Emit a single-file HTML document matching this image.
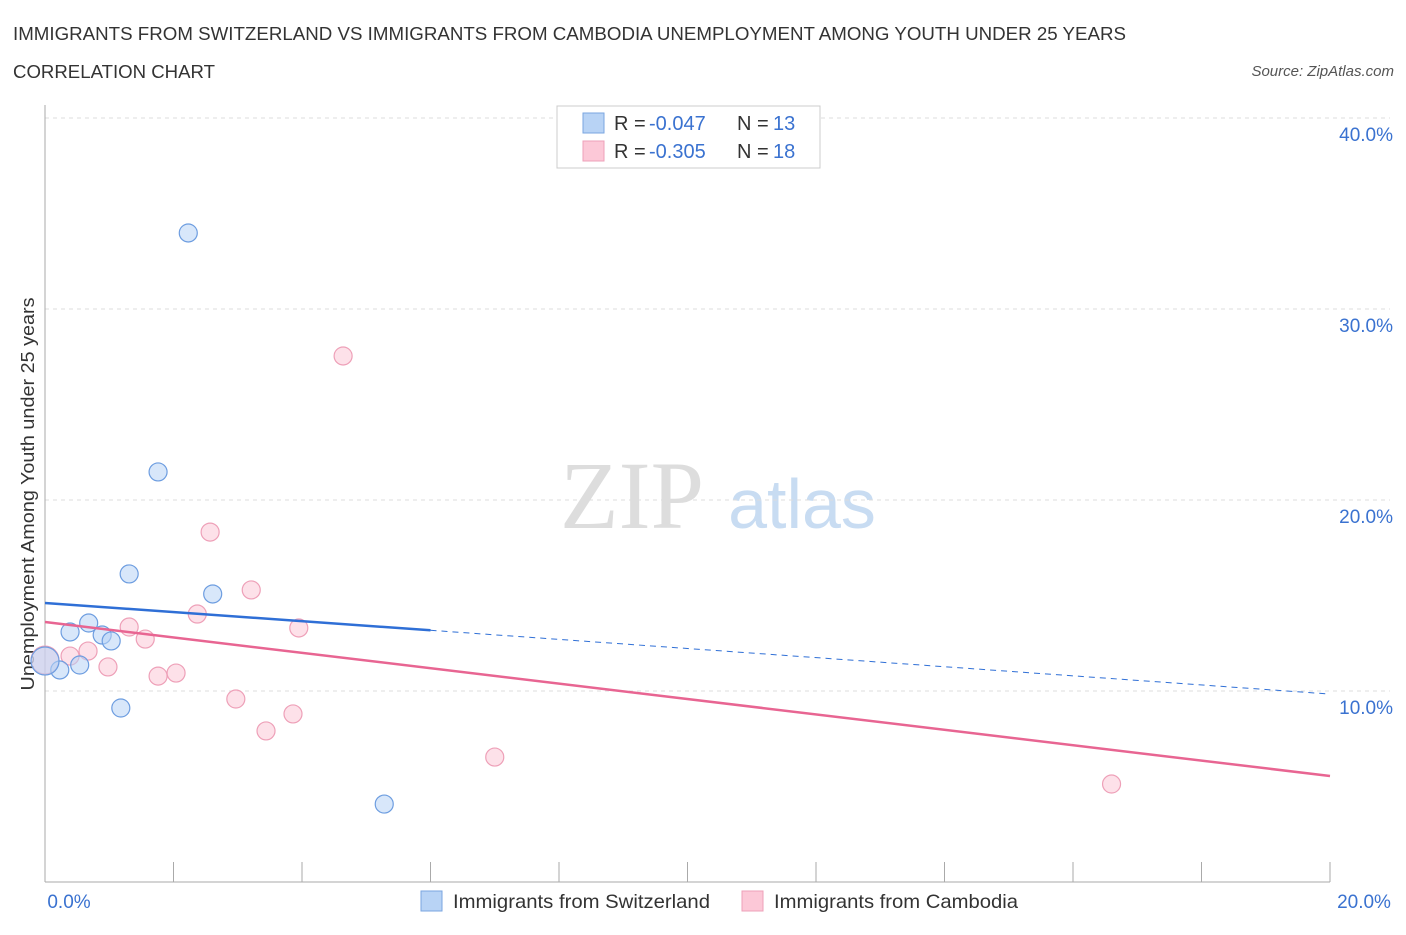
<!DOCTYPE html>
<html><head><meta charset="utf-8"><style>
body{margin:0;background:#fff;font-family:"Liberation Sans",sans-serif;}
svg text{font-family:"Liberation Sans",sans-serif;}
</style></head><body>
<svg id="c" width="1406" height="930">
<text x="13" y="40" font-size="18.5" fill="#333" textLength="1113" lengthAdjust="spacingAndGlyphs">IMMIGRANTS FROM SWITZERLAND VS IMMIGRANTS FROM CAMBODIA UNEMPLOYMENT AMONG YOUTH UNDER 25 YEARS</text>
<text x="13" y="78" font-size="18.5" fill="#333" textLength="202" lengthAdjust="spacingAndGlyphs">CORRELATION CHART</text>
<text x="1394" y="76" font-size="15" fill="#555" font-style="italic" text-anchor="end">Source: ZipAtlas.com</text>
<text x="632" y="528" font-size="96" fill="#ddd" text-anchor="middle" style="font-family:'Liberation Serif',serif">ZIP</text>
<text x="802" y="528" font-size="70" fill="#c8dcf2" text-anchor="middle">atlas</text>
<text transform="translate(34,494) rotate(-90)" font-size="18" fill="#333" text-anchor="middle" textLength="393" lengthAdjust="spacingAndGlyphs">Unemployment Among Youth under 25 years</text>
<g id="grid"></g><g id="marks"></g>
<g>
<rect x="557" y="106" width="263" height="62" fill="#fff" stroke="#ccc"/>
<rect x="583" y="113" width="21" height="20" fill="#b8d3f5" stroke="#7aa6e0"/>
<rect x="583" y="141" width="21" height="20" fill="#fcc8d7" stroke="#eea0b8"/>
<text x="614" y="130" font-size="20" fill="#333">R =</text>
<text x="649" y="130" font-size="20" fill="#3a72d0">-0.047</text>
<text x="737" y="130" font-size="20" fill="#333">N =</text>
<text x="773" y="130" font-size="20" fill="#3a72d0">13</text>
<text x="614" y="158" font-size="20" fill="#333">R =</text>
<text x="649" y="158" font-size="20" fill="#3a72d0">-0.305</text>
<text x="737" y="158" font-size="20" fill="#333">N =</text>
<text x="773" y="158" font-size="20" fill="#3a72d0">18</text>
</g>
<g>
<rect x="421" y="891" width="21" height="20" fill="#b8d3f5" stroke="#7aa6e0"/>
<text x="453" y="908" font-size="19.5" fill="#333" textLength="257" lengthAdjust="spacingAndGlyphs">Immigrants from Switzerland</text>
<rect x="742" y="891" width="21" height="20" fill="#fcc8d7" stroke="#eea0b8"/>
<text x="774" y="908" font-size="19.5" fill="#333" textLength="244" lengthAdjust="spacingAndGlyphs">Immigrants from Cambodia</text>
</g>
</svg>
<script>
const blueX=[2.23,1.76,1.31,2.61,0.68,0.39,0.89,1.03,0.54,0.23,0,1.18,5.28];
const blueY=[33.98,21.47,16.13,15.08,13.56,13.09,12.93,12.62,11.36,11.10,11.57,9.11,4.08];
const pinkX=[4.64,2.57,3.21,2.37,1.31,3.95,1.56,0.67,0.39,0.98,1.76,2.04,0,2.97,3.86,3.44,7.00,16.6];
const pinkY=[27.54,18.32,15.29,14.03,13.35,13.30,12.72,12.09,11.83,11.26,10.78,10.94,11.62,9.58,8.80,7.91,6.54,5.13];
const blueTrend=[14.61,9.84];
const pinkTrend=[13.61,5.55];
const yTicks=[10,20,30,40];
const xTickLabels=["0.0%","20.0%"];
const NS="http://www.w3.org/2000/svg";
const X=v=>45+v/20*1285, Y=v=>882-v*19.1;
function mk(t,a,p){const e=document.createElementNS(NS,t);for(const k in a)e.setAttribute(k,a[k]);p.appendChild(e);return e;}
const g=document.getElementById('grid'),m=document.getElementById('marks');
yTicks.forEach(t=>{
 const l=mk('line',{x1:45,x2:1390,y1:Y(t),y2:Y(t),stroke:'#ddd','stroke-dasharray':'4,4'},g);
 
 
 const tx=mk('text',{x:1393,y:Y(t)+23,'font-size':19,fill:'#3a72d0','text-anchor':'end'},g);
 tx.textContent=t.toFixed(1)+'%';
 
 
});
const ya=mk('line',{x1:45,x2:45,y1:105,y2:882,stroke:'#aaa'},g);


const xa=mk('line',{x1:45,x2:1330,y1:882,y2:882,stroke:'#aaa'},g);


for(let i=0;i<=10;i++){const t=mk('line',{x1:X(i*2),x2:X(i*2),y1:862,y2:882,stroke:'#aaa'},g);
 
 }
[[xTickLabels[0],69],[xTickLabels[1],1364]].forEach(([s,x])=>{const t=mk('text',{x:x,y:908,'font-size':19,fill:'#3a72d0','text-anchor':'middle'},g);t.textContent=s;
 
 });
function dots(xs,ys,fill,stroke,name){xs.forEach((x,i)=>{const r=x===0?14:9;
 const c=mk('circle',{cx:X(x),cy:Y(ys[i]),r:r,fill:fill,stroke:stroke,'stroke-width':1.2,'fill-opacity':0.55},m);
 
 });}
dots(pinkX,pinkY,'#fcc8d7','#eea0b8','cambodia-point');
dots(blueX,blueY,'#b8d3f5','#6d9de0','switzerland-point');
const bx=6.0, byv=blueTrend[0]+(blueTrend[1]-blueTrend[0])*bx/20;
const b1=mk('line',{x1:X(0),y1:Y(blueTrend[0]),x2:X(bx),y2:Y(byv),stroke:'#2f6fd6','stroke-width':2.5},m);


const b2=mk('line',{x1:X(bx),y1:Y(byv),x2:X(20),y2:Y(blueTrend[1]),stroke:'#2f6fd6','stroke-width':1,'stroke-dasharray':'6,5'},m);


const p1=mk('line',{x1:X(0),y1:Y(pinkTrend[0]),x2:X(20),y2:Y(pinkTrend[1]),stroke:'#e86592','stroke-width':2.5},m);


</script>
</body></html>
